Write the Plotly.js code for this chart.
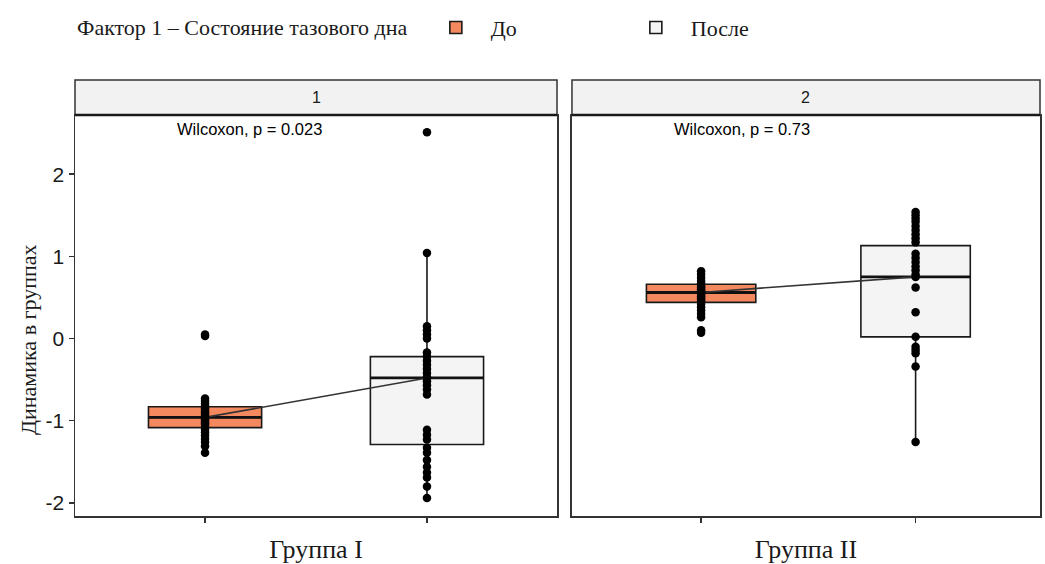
<!DOCTYPE html>
<html>
<head>
<meta charset="utf-8">
<script src="https://cdn.plot.ly/plotly-3.0.1.min.js"></script>
<style>html,body{margin:0;padding:0;background:#fff;}#chart{width:1045px;height:564px;}</style>
</head>
<body>
<div id="chart"></div>
<script>
// ---- data ----
const groups = ["Группа I", "Группа II"];
const stripLabels = ["1", "2"];
const factorNames = ["До", "После"];
const pLabels = ["Wilcoxon, p = 0.023", "Wilcoxon, p = 0.73"];
const yTitle = "Динамика в группах";

// box statistics [group][factor]
const q1Vals     = [[-1.085, -1.29], [0.44, 0.02]];
const medianVals = [[-0.96, -0.48], [0.56, 0.75]];
const q3Vals     = [[-0.83, -0.22], [0.66, 1.13]];
const lowerVals  = [[-1.33, -1.95], [0.26, -1.26]];
const upperVals  = [[-0.73, 1.04], [0.82, 1.54]];

// individual points
const g1Before = [0.05, 0.03, -0.73, -0.76, -0.79, -0.82, -0.85, -0.88, -0.9, -0.92, -0.94, -0.96, -0.97,
  -0.99, -1.01, -1.03, -1.05, -1.08, -1.11, -1.14, -1.18, -1.22, -1.26, -1.31, -1.39];
const g1After = [2.51, 1.04, 0.15, 0.1, 0.05, 0.0, -0.17, -0.22, -0.27, -0.32, -0.37, -0.42, -0.47, -0.52,
  -0.57, -0.62, -0.68, -1.11, -1.17, -1.23, -1.33, -1.39, -1.48, -1.56, -1.63, -1.69, -1.8, -1.94];
const g2Before = [0.82, 0.78, 0.74, 0.7, 0.67, 0.64, 0.62, 0.6, 0.58, 0.56, 0.55, 0.53, 0.51, 0.49, 0.47,
  0.45, 0.42, 0.38, 0.34, 0.3, 0.26, 0.1, 0.07];
const g2After = [1.54, 1.5, 1.46, 1.42, 1.37, 1.32, 1.27, 1.22, 1.17, 1.03, 0.98, 0.93, 0.88, 0.83, 0.78,
  0.75, 0.62, 0.32, 0.02, -0.1, -0.14, -0.18, -0.34, -1.26];
const points = [[g1Before, g1After], [g2Before, g2After]];

// ---- styles ----
const fillColors = ["#f4895f", "#f4f4f4"];
const serif = "Liberation Serif, Times New Roman, serif";
const sans = "Liberation Sans, Arial, sans-serif";
const axisCol = "#333333";
const boxWidth = 0.51;

const traces = [];
for (let g = 0; g < 2; g++) {
  const xa = g === 0 ? "x" : "x2";
  const ya = g === 0 ? "y" : "y2";
  for (let f = 0; f < 2; f++) {
    traces.push({
      type: "box", xaxis: xa, yaxis: ya,
      name: factorNames[f], legendgroup: factorNames[f], showlegend: g === 0,
      x: [f + 1],
      q1: [q1Vals[g][f]], median: [medianVals[g][f]], q3: [q3Vals[g][f]],
      lowerfence: [lowerVals[g][f]], upperfence: [upperVals[g][f]],
      boxpoints: false, width: boxWidth, whiskerwidth: 0,
      fillcolor: fillColors[f],
      line: { color: "#1a1a1a", width: 1.6 },
      hoverinfo: "skip"
    });
    // thicker median bar
    traces.push({
      type: "scatter", mode: "lines", xaxis: xa, yaxis: ya, showlegend: false,
      x: [f + 1 - boxWidth / 2, f + 1 + boxWidth / 2],
      y: [medianVals[g][f], medianVals[g][f]],
      line: { color: "#111111", width: 2.8 }, hoverinfo: "skip"
    });
  }
  // line connecting medians
  traces.push({
    type: "scatter", mode: "lines", xaxis: xa, yaxis: ya, showlegend: false,
    x: [1, 2], y: [medianVals[g][0], medianVals[g][1]],
    line: { color: "#333333", width: 1.6 }, hoverinfo: "skip"
  });
  for (let f = 0; f < 2; f++) {
    const vals = points[g][f];
    traces.push({
      type: "scatter", mode: "markers", xaxis: xa, yaxis: ya, showlegend: false,
      x: vals.map(() => f + 1), y: vals,
      marker: { color: "#000000", size: 8.5 }, hoverinfo: "skip"
    });
  }
}

const yRange = [-2.16, 2.72];
const plotTop = (516 - 115) / 436;

function xaxisDef(domain, title, range) {
  return {
    domain: domain, range: range, tickvals: [1, 2], ticktext: ["", ""],
    ticks: "outside", ticklen: 5, tickwidth: 1.5, tickcolor: axisCol,
    showline: true, mirror: true, linecolor: axisCol, linewidth: 1.5,
    showgrid: false, zeroline: false, fixedrange: true,
    title: { text: title, font: { family: serif, size: 26, color: "#1a1a1a" }, standoff: 16 }
  };
}

const layout = {
  width: 1045, height: 564,
  margin: { l: 75, r: 5, t: 80, b: 48 },
  paper_bgcolor: "#ffffff", plot_bgcolor: "#ffffff",
  showlegend: true,
  legend: {
    orientation: "h", x: 0.0, xanchor: "left", y: 1.12, yanchor: "middle",
    font: { family: serif, size: 22, color: "#1a1a1a" },
    title: { text: "Фактор 1 – Состояние тазового дна ", font: { family: serif, size: 22, color: "#1a1a1a" }, side: "left" },
    entrywidth: 125, entrywidthmode: "pixels",
    itemwidth: 60
  },
  xaxis: xaxisDef([0, 0.4995], groups[0], [0.414, 2.586]),
  xaxis2: xaxisDef([0.515, 1], groups[1], [0.398, 2.58]),
  yaxis: {
    domain: [0, plotTop], range: yRange,
    tickvals: [-2, -1, 0, 1, 2], ticktext: ["-2", "-1", "0", "1", "2"],
    ticks: "outside", ticklen: 5, tickwidth: 1.5, tickcolor: axisCol,
    tickfont: { family: sans, size: 21, color: "#1a1a1a" },
    showline: true, mirror: true, linecolor: axisCol, linewidth: 1.5,
    showgrid: false, zeroline: false, fixedrange: true
  },
  yaxis2: {
    domain: [0, plotTop], range: yRange, anchor: "x2", matches: "y",
    showticklabels: false, ticks: "",
    showline: true, mirror: true, linecolor: axisCol, linewidth: 1.5,
    showgrid: false, zeroline: false, fixedrange: true
  },
  shapes: [
    { type: "rect", xref: "x domain", yref: "paper", x0: 0, x1: 1, y0: plotTop, y1: 1,
      fillcolor: "#f2f2f2", line: { color: axisCol, width: 1.5 }, layer: "below" },
    { type: "rect", xref: "x2 domain", yref: "paper", x0: 0, x1: 1, y0: plotTop, y1: 1,
      fillcolor: "#f2f2f2", line: { color: axisCol, width: 1.5 }, layer: "below" },
    { type: "line", xref: "x domain", yref: "paper", x0: 0, x1: 1, y0: plotTop, y1: plotTop,
      line: { color: "#1a1a1a", width: 2.5 } },
    { type: "line", xref: "x2 domain", yref: "paper", x0: 0, x1: 1, y0: plotTop, y1: plotTop,
      line: { color: "#1a1a1a", width: 2.5 } }
  ],
  annotations: [
    { xref: "paper", yref: "paper", x: (28 - 75) / 965, y: (516 - 340) / 436, xanchor: "center", yanchor: "middle",
      textangle: -90, text: yTitle, showarrow: false, font: { family: serif, size: 22, color: "#1a1a1a" } },
    { xref: "x domain", yref: "paper", x: 0.5, y: (plotTop + 1) / 2, yanchor: "middle", xanchor: "center",
      text: stripLabels[0], showarrow: false, font: { family: sans, size: 16, color: "#1a1a1a" } },
    { xref: "x2 domain", yref: "paper", x: 0.5, y: (plotTop + 1) / 2, yanchor: "middle", xanchor: "center",
      text: stripLabels[1], showarrow: false, font: { family: sans, size: 16, color: "#1a1a1a" } },
    { xref: "x", yref: "y", x: 1.2, y: 2.55, text: pLabels[0], showarrow: false,
      font: { family: sans, size: 16.5, color: "#000000" } },
    { xref: "x2", yref: "y2", x: 1.19, y: 2.55, text: pLabels[1], showarrow: false,
      font: { family: sans, size: 16.5, color: "#000000" } }
  ]
};

Plotly.newPlot("chart", traces, layout, { displayModeBar: false, staticPlot: true });
</script>
</body>
</html>
